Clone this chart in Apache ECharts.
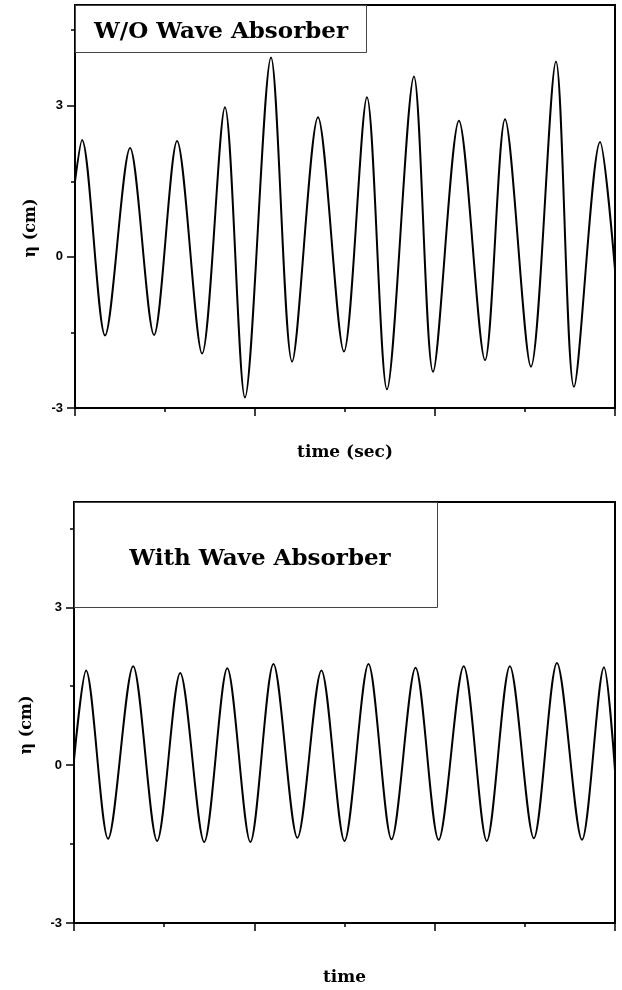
<!DOCTYPE html>
<html>
<head>
<meta charset="utf-8">
<script src="https://cdn.jsdelivr.net/npm/echarts@6/dist/echarts.min.js"></script>
<style>
html,body{margin:0;padding:0;background:#fff;}
#chart{width:622px;height:990px;}
</style>
</head>
<body>
<div id="chart"></div>
<script>
// Top panel: W/O wave absorber (time in arbitrary units, eta in cm) - crests and troughs
var topTime = [0,0.039,0.167,0.306,0.439,0.567,0.706,0.833,0.944,1.089,1.206,1.350,1.494,1.622,1.733,1.883,1.989,2.133,2.278,2.389,2.533,2.672,2.772,2.917,3.0];
var topEta  = [1.5,2.32,-1.56,2.16,-1.55,2.30,-1.92,2.97,-2.79,3.96,-2.08,2.77,-1.88,3.17,-2.63,3.58,-2.28,2.70,-2.05,2.73,-2.18,3.88,-2.58,2.28,-0.25];
// Bottom panel: with wave absorber
var botTime = [0,0.067,0.189,0.328,0.461,0.589,0.722,0.850,0.978,1.106,1.239,1.372,1.500,1.633,1.761,1.894,2.022,2.161,2.289,2.417,2.550,2.678,2.817,2.939,3.0];
var botEta  = [0.1,1.80,-1.40,1.88,-1.44,1.75,-1.46,1.84,-1.46,1.92,-1.38,1.80,-1.44,1.92,-1.41,1.85,-1.42,1.88,-1.44,1.88,-1.39,1.94,-1.42,1.86,-0.1];
// Axis ticks
var yMajorTicks = [-3, 0, 3];
var yMinorTicks = [-1.5, 1.5, 4.5];
var yRange = [-3, 5];
var xRange = [0, 3];
var titles = ['W/O Wave Absorber', 'With Wave Absorber'];
var xNames = ['time (sec)', 'time'];
var yName = '\u03b7 (cm)';

function zip(a, b) { return a.map(function (v, i) { return [v, b[i]]; }); }

var grids = [
  {left: 75, top: 5, width: 540, height: 403},
  {left: 74, top: 502, width: 541, height: 421}
];
var titleFont = '"DejaVu Serif", "Liberation Serif", serif';

var xAxes = [], yAxes = [];
[0, 1].forEach(function (g) {
  xAxes.push({
    type: 'value', gridIndex: g, min: xRange[0], max: xRange[1], interval: 1,
    name: xNames[g], nameLocation: 'middle', nameGap: g === 0 ? 36 : 46,
    nameTextStyle: {fontFamily: titleFont, fontWeight: 'bold', fontSize: 17, color: '#000'},
    axisLine: {show: true, onZero: false, lineStyle: {color: '#000', width: 2}},
    axisTick: {show: true, inside: false, length: 8, lineStyle: {color: '#000', width: 1.5}},
    minorTick: {show: true, splitNumber: 2, length: 4, lineStyle: {color: '#000', width: 1.5}},
    axisLabel: {show: false},
    splitLine: {show: false}, minorSplitLine: {show: false}
  });
  yAxes.push({
    type: 'value', gridIndex: g, min: yRange[0], max: yRange[1], interval: 1.5,
    axisLine: {show: true, onZero: false, lineStyle: {color: '#000', width: 2}},
    axisTick: {show: true, inside: false, length: 8, customValues: yMajorTicks, lineStyle: {color: '#000', width: 1.5}},
    axisLabel: {show: true, customValues: yMajorTicks, margin: 12, fontFamily: '"Liberation Sans", Arial, sans-serif', fontWeight: 'bold', fontSize: 13, color: '#000'},
    splitLine: {show: false}
  });
  yAxes.push({
    type: 'value', gridIndex: g, min: yRange[0], max: yRange[1], interval: 1.5, position: 'left',
    axisLine: {show: false, onZero: false},
    axisTick: {show: true, inside: false, length: 4, customValues: yMinorTicks, lineStyle: {color: '#000', width: 1.5}},
    axisLabel: {show: false},
    splitLine: {show: false}
  });
});

var chart = echarts.init(document.getElementById('chart'), null, {renderer: 'canvas'});
chart.setOption({
  animation: false,
  backgroundColor: '#fff',
  grid: grids.map(function (gr) { return Object.assign({show: true, borderColor: '#000', borderWidth: 2, backgroundColor: 'transparent'}, gr); }),
  xAxis: xAxes,
  yAxis: yAxes,
  series: [
    {type: 'line', xAxisIndex: 0, yAxisIndex: 0, data: zip(topTime, topEta), smooth: 0.3, showSymbol: false, lineStyle: {color: '#000', width: 2}, z: 3},
    {type: 'line', xAxisIndex: 1, yAxisIndex: 2, data: zip(botTime, botEta), smooth: 0.3, showSymbol: false, lineStyle: {color: '#000', width: 2}, z: 3}
  ],
  graphic: [
    {type: 'rect', left: 75, top: 5, shape: {width: 291, height: 47}, style: {fill: '#fff', stroke: '#444', lineWidth: 1}, z: 10},
    {type: 'text', x: 221, y: 32, style: {text: titles[0], fill: '#000', font: 'bold 23px ' + titleFont, textAlign: 'center', textVerticalAlign: 'middle'}, z: 11},
    {type: 'rect', left: 74, top: 502, shape: {width: 363, height: 105}, style: {fill: '#fff', stroke: '#444', lineWidth: 1}, z: 10},
    {type: 'text', x: 260, y: 559, style: {text: titles[1], fill: '#000', font: 'bold 23px ' + titleFont, textAlign: 'center', textVerticalAlign: 'middle'}, z: 11},
    {type: 'text', x: 31, y: 228, rotation: Math.PI / 2, style: {text: yName, fill: '#000', font: 'bold 16px ' + titleFont, textAlign: 'center', textVerticalAlign: 'middle'}},
    {type: 'text', x: 27, y: 725, rotation: Math.PI / 2, style: {text: yName, fill: '#000', font: 'bold 16px ' + titleFont, textAlign: 'center', textVerticalAlign: 'middle'}}
  ]
});
</script>
</body>
</html>
